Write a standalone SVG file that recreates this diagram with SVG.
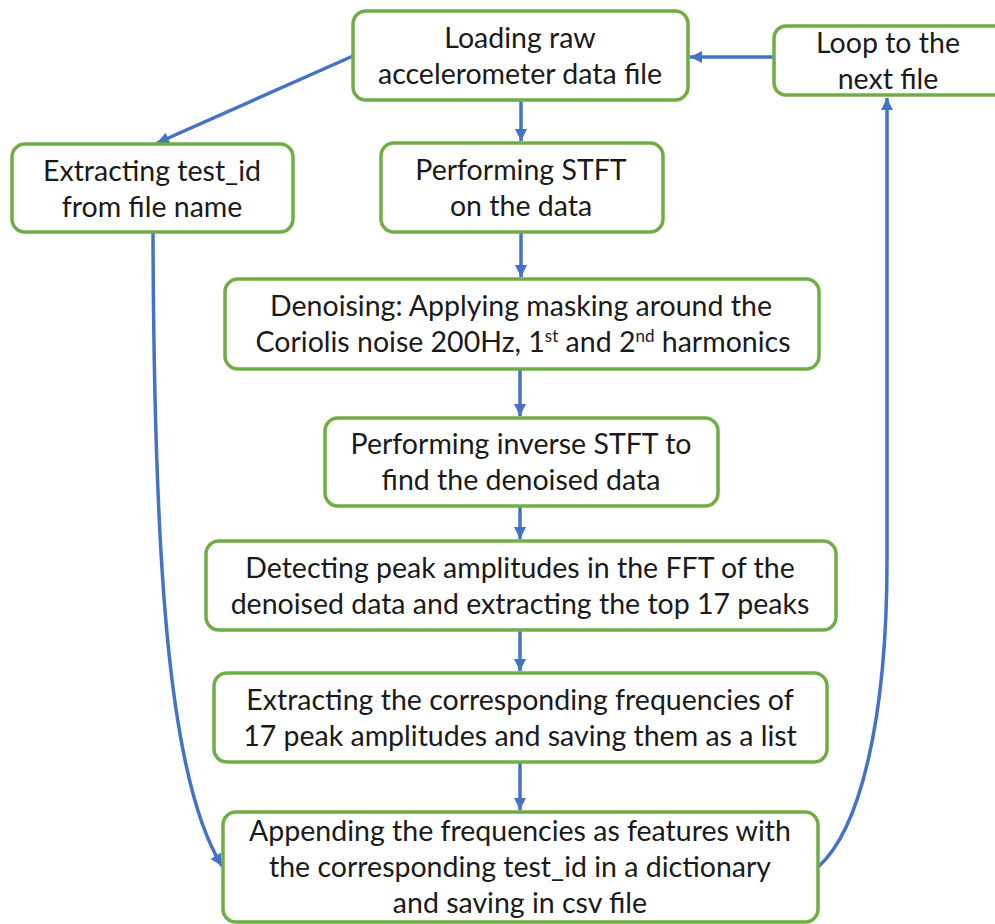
<svg xmlns="http://www.w3.org/2000/svg" width="995" height="924" viewBox="0 0 995 924">
  <style>
    .box { fill: #ffffff; stroke: #70AD47; stroke-width: 3.5; }
    .lbl { font-family: Lato, "Open Sans", "Liberation Sans", sans-serif; font-size: 28.5px; fill: #1a1a1a; text-anchor: middle; }
    .sup { font-size: 17px; }
    .wire { fill: none; stroke: #4472C4; stroke-width: 3.5; marker-end: url(#arrow); }
  </style>
  <defs>
    <marker id="arrow" markerUnits="userSpaceOnUse" markerWidth="14" markerHeight="14" viewBox="0 0 14 14" refX="13" refY="7" orient="auto">
      <path d="M1,1 L13,7 L1,13 Z" fill="#4472C4"/>
    </marker>
  </defs>
  <rect width="995" height="924" fill="#ffffff"/>

  <!-- connectors -->
  <g id="connectors">
    <line class="wire" x1="353" y1="56" x2="157" y2="143"/>
    <line class="wire" x1="773" y1="57" x2="690" y2="57"/>
    <line class="wire" x1="521" y1="101" x2="521" y2="141"/>
    <line class="wire" x1="521" y1="233" x2="521" y2="277"/>
    <line class="wire" x1="520" y1="370" x2="520" y2="416"/>
    <line class="wire" x1="520" y1="507" x2="520" y2="539"/>
    <line class="wire" x1="520" y1="631" x2="520" y2="671"/>
    <line class="wire" x1="520" y1="763" x2="520" y2="810"/>
    <path class="wire" d="M153,233 C154,560 168,780 222,866"/>
    <path class="wire" d="M818,867 C860,830 887,720 887,560 L887,98"/>
  </g>

  <g id="load">
    <rect class="box" x="353" y="11" width="335" height="89" rx="13"/>
    <text class="lbl" x="520" y="48">Loading raw</text>
    <text class="lbl" x="520" y="84">accelerometer data file</text>
  </g>

  <g id="loop">
    <rect class="box" x="774" y="26" width="235" height="69" rx="12"/>
    <text class="lbl" x="888" y="53">Loop to the</text>
    <text class="lbl" x="888" y="89">next file</text>
  </g>

  <g id="extract-id">
    <rect class="box" x="12" y="144" width="281" height="88" rx="13"/>
    <text class="lbl" x="152" y="181">Extracting test_id</text>
    <text class="lbl" x="152" y="217">from file name</text>
  </g>

  <g id="stft">
    <rect class="box" x="381" y="143" width="282" height="89" rx="13"/>
    <text class="lbl" x="521" y="180">Performing STFT</text>
    <text class="lbl" x="521" y="216">on the data</text>
  </g>

  <g id="denoise">
    <rect class="box" x="225" y="279" width="594" height="90" rx="13"/>
    <text class="lbl" x="521" y="316">Denoising: Applying masking around the</text>
    <text class="lbl" x="523" y="352">Coriolis noise 200Hz, 1<tspan class="sup" dy="-10">st</tspan><tspan dy="10"> and 2</tspan><tspan class="sup" dy="-10">nd</tspan><tspan dy="10"> harmonics</tspan></text>
  </g>

  <g id="istft">
    <rect class="box" x="325" y="418" width="393" height="88" rx="13"/>
    <text class="lbl" x="521" y="454">Performing inverse STFT to</text>
    <text class="lbl" x="521" y="490">find the denoised data</text>
  </g>

  <g id="peaks">
    <rect class="box" x="206" y="541" width="630" height="89" rx="13"/>
    <text class="lbl" x="520" y="578">Detecting peak amplitudes in the FFT of the</text>
    <text class="lbl" x="520" y="614">denoised data and extracting the top 17 peaks</text>
  </g>

  <g id="freqs">
    <rect class="box" x="214" y="673" width="613" height="89" rx="13"/>
    <text class="lbl" x="520" y="710">Extracting the corresponding frequencies of</text>
    <text class="lbl" x="520" y="746">17 peak amplitudes and saving them as a list</text>
  </g>

  <g id="append">
    <rect class="box" x="223" y="812" width="595" height="110" rx="13"/>
    <text class="lbl" x="520" y="841">Appending the frequencies as features with</text>
    <text class="lbl" x="520" y="877">the corresponding test_id in a dictionary</text>
    <text class="lbl" x="520" y="913">and saving in csv file</text>
  </g>
</svg>
